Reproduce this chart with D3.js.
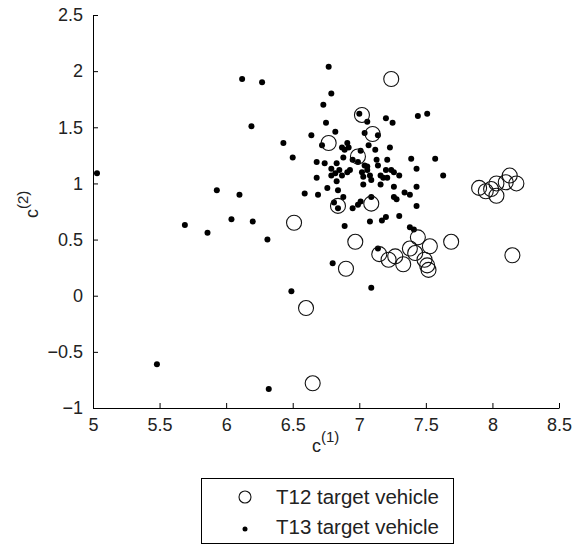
<!DOCTYPE html>
<html>
<head>
<meta charset="utf-8">
<script src="https://cdn.jsdelivr.net/npm/d3@7"></script>
<style>
  body { margin: 0; background: #fff; }
  text { font-family: "Liberation Sans", Arial, sans-serif; fill: #222; }
</style>
</head>
<body>
<svg id="chart" width="583" height="546"></svg>
<script>
// T12 target vehicle (open circles)
var t12X = [7.24, 7.02, 7.10, 6.77, 6.99, 6.84, 7.09, 6.51, 6.97, 6.90, 6.60, 6.65,
  7.15, 7.22, 7.27, 7.33, 7.38, 7.42, 7.44, 7.53, 7.49, 7.51, 7.52, 7.69, 8.15,
  8.13, 8.18, 8.03, 8.10, 7.99, 7.90, 7.95, 8.03];
var t12Y = [1.93, 1.61, 1.44, 1.36, 1.24, 0.80, 0.82, 0.65, 0.48, 0.24, -0.11, -0.78,
  0.37, 0.32, 0.35, 0.28, 0.42, 0.38, 0.52, 0.44, 0.32, 0.27, 0.23, 0.48, 0.36,
  1.07, 1.00, 1.00, 1.01, 0.95, 0.96, 0.93, 0.89];

// T13 target vehicle (dots)
var t13X = [5.03, 5.48, 5.69, 5.86, 5.93, 6.04, 6.10, 6.12, 6.20, 6.19, 6.27, 6.31, 6.32,
  6.43, 6.49, 6.50, 6.59, 6.64, 6.68, 6.68, 6.69, 6.72, 6.73, 6.74, 6.75, 6.76, 6.77,
  6.79, 6.80, 6.79, 6.79, 6.81, 6.82, 6.82, 6.83, 6.83, 6.84, 6.84, 6.85, 6.87, 6.87,
  6.88, 6.88, 6.89, 6.89, 6.91, 6.91, 6.92, 6.93, 6.95, 6.95, 6.99, 6.99, 7.00, 7.01,
  7.01, 7.02, 7.03, 7.03, 7.04, 7.04, 7.06, 7.06, 7.06, 7.07, 7.08, 7.08, 7.09, 7.09,
  7.09, 7.12, 7.13, 7.14, 7.14, 7.14, 7.16, 7.16, 7.17, 7.18, 7.20, 7.20, 7.20, 7.21,
  7.21, 7.23, 7.24, 7.25, 7.26, 7.26, 7.26, 7.28, 7.30, 7.30, 7.34, 7.38, 7.38, 7.39,
  7.41, 7.43, 7.43, 7.43, 7.44, 7.51, 7.57, 7.63];
var t13Y = [1.09, -0.61, 0.63, 0.56, 0.94, 0.68, 0.90, 1.93, 0.66, 1.51, 1.90, 0.50, -0.83,
  1.36, 0.04, 1.23, 0.91, 1.43, 1.19, 1.05, 0.90, 1.34, 1.70, 1.18, 1.54, 0.96, 2.04,
  1.80, 0.29, 1.13, 1.07, 0.83, 1.46, 1.09, 1.18, 1.02, 0.94, 0.78, 1.12, 1.32, 1.07,
  1.23, 0.88, 1.30, 0.62, 1.36, 1.10, 1.32, 1.12, 1.21, 0.78, 1.19, 0.81, 1.62, 1.29,
  0.84, 1.10, 1.06, 0.99, 1.45, 1.16, 1.55, 1.15, 1.12, 1.34, 1.07, 0.66, 1.03, 0.88,
  0.07, 1.30, 1.21, 1.43, 1.16, 0.42, 1.07, 0.99, 0.67, 1.05, 1.58, 1.12, 0.70, 1.21,
  1.05, 1.32, 1.12, 1.54, 1.10, 0.97, 0.88, 0.86, 1.07, 0.71, 0.92, 0.90, 0.61, 1.22,
  0.59, 1.13, 0.97, 0.80, 1.60, 1.62, 1.22, 1.07];

var xTicks = [5, 5.5, 6, 6.5, 7, 7.5, 8, 8.5];
var yTicks = [-1, -0.5, 0, 0.5, 1, 1.5, 2, 2.5];
var legendLabels = ["T12 target vehicle", "T13 target vehicle"];

var svg = d3.select("#chart");
var plotLeft = 93, plotRight = 559, plotTop = 15, plotBottom = 408;

var x = d3.scaleLinear().domain([5, 8.5]).range([plotLeft, plotRight]);
var y = d3.scaleLinear().domain([-1, 2.5]).range([plotBottom, plotTop]);

// axes, ticks point inward like matlab
var xAxis = d3.axisBottom(x).tickValues(xTicks).tickFormat(d3.format("")).tickSizeInner(-5).tickSizeOuter(0).tickPadding(6);
var yAxis = d3.axisLeft(y).tickValues(yTicks).tickFormat(d3.format("")).tickSizeInner(-5).tickSizeOuter(0).tickPadding(10);

var gx = svg.append("g").attr("transform", "translate(0," + plotBottom + ")").call(xAxis);
var gy = svg.append("g").attr("transform", "translate(" + plotLeft + ",0)").call(yAxis);
[gx, gy].forEach(function (g) {
  g.select(".domain").attr("stroke", "#000");
  g.selectAll(".tick line").attr("stroke", "#000");
  g.selectAll(".tick text").style("font-size", "18px").attr("fill", "#222")
    .style("font-family", "'Liberation Sans', Arial, sans-serif");
});
gx.selectAll(".tick text").attr("dy", "0.95em");

// points
svg.append("g").selectAll("circle")
  .data(d3.range(t13X.length))
  .join("circle")
  .attr("cx", function (i) { return x(t13X[i]); })
  .attr("cy", function (i) { return y(t13Y[i]); })
  .attr("r", 3)
  .attr("fill", "#000");

svg.append("g").selectAll("circle")
  .data(d3.range(t12X.length))
  .join("circle")
  .attr("cx", function (i) { return x(t12X[i]); })
  .attr("cy", function (i) { return y(t12Y[i]); })
  .attr("r", 7.5)
  .attr("fill", "none")
  .attr("stroke", "#111")
  .attr("stroke-width", 1.1);

// axis labels
var xl = svg.append("text").attr("x", 312).attr("y", 452).style("font-size", "18px");
xl.append("tspan").text("c");
xl.append("tspan").attr("dy", -10).style("font-size", "15px").text("(1)");

var yl = svg.append("text").attr("transform", "translate(38,218) rotate(-90)").style("font-size", "18px");
yl.append("tspan").text("c");
yl.append("tspan").attr("dy", -10).style("font-size", "15px").text("(2)");

// legend
var lg = svg.append("g");
lg.append("rect").attr("x", 201.5).attr("y", 478.5).attr("width", 252).attr("height", 65)
  .attr("fill", "#fff").attr("stroke", "#000");
legendLabels.forEach(function (label, i) {
  var cy = 497 + i * 30;
  if (i === 0) {
    lg.append("circle").attr("cx", 245).attr("cy", cy).attr("r", 6)
      .attr("fill", "none").attr("stroke", "#111").attr("stroke-width", 1.1);
  } else {
    lg.append("circle").attr("cx", 245).attr("cy", cy + 2).attr("r", 2.5).attr("fill", "#000");
  }
  lg.append("text").attr("x", 276).attr("y", cy + 7).style("font-size", "20.5px").text(label);
});
</script>
</body>
</html>
